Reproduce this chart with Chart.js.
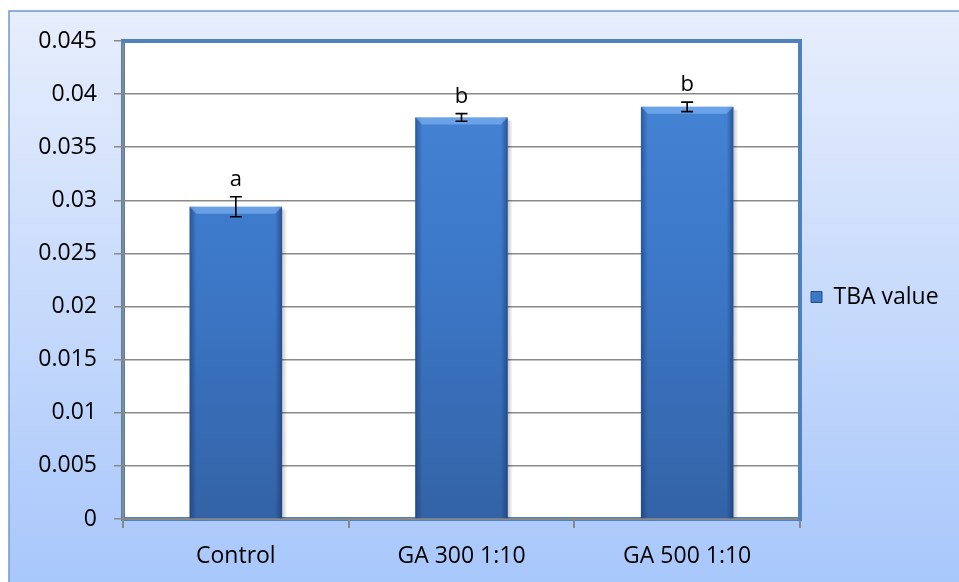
<!DOCTYPE html>
<html>
<head>
<meta charset="utf-8">
<script src="https://cdn.jsdelivr.net/npm/chart.js@4/dist/chart.umd.min.js"></script>
<style>
html,body{margin:0;padding:0;background:#fff;}
#wrap{width:959px;height:582px;position:relative;}
</style>
</head>
<body>
<div id="wrap"><canvas id="c" width="959" height="582"></canvas></div>
<script>
const categories = ['Control', 'GA 300 1:10', 'GA 500 1:10'];
const tbaValues = [0.0294, 0.0378, 0.0388];
const tbaErrors = [0.00094, 0.00036, 0.00045];
const sigLetters = ['a', 'b', 'b'];
const yTickLabels = ['0', '0.005', '0.01', '0.015', '0.02', '0.025', '0.03', '0.035', '0.04', '0.045'];
const seriesName = 'TBA value';

const FONT = "'Open Sans', 'Noto Sans', sans-serif";
const TICK_SIZE = 23;
const LEGEND_SIZE = 23;
const LEGEND_PAD = 11;
const BOX = 11;

Chart.defaults.color = '#000';
Chart.defaults.font.family = FONT;

const PLOT_RIGHT = 800;
const mctx = document.createElement('canvas').getContext('2d');
mctx.font = LEGEND_SIZE + 'px ' + FONT;
const legendTextW = mctx.measureText(seriesName).width;
const legendW = LEGEND_PAD + BOX + LEGEND_SIZE / 2 + legendTextW + 10;
const padRight = Math.max(0, 959 - PLOT_RIGHT - legendW);

const bgPlugin = {
  id: 'bg',
  afterLayout(chart) {
    if (chart.legend) { chart.legend.top -= 9; chart.legend.bottom -= 9; }
  },
  beforeDraw(chart) {
    const {ctx, chartArea: a} = chart;
    ctx.save();
    ctx.fillStyle = '#fff';
    ctx.fillRect(0, 0, chart.width, chart.height);
    const g = ctx.createLinearGradient(0, 11, 0, chart.height);
    g.addColorStop(0, '#e7eefc');
    g.addColorStop(1, '#a8c7fb');
    ctx.fillStyle = g;
    ctx.fillRect(9, 11, chart.width - 9, chart.height - 11);
    ctx.strokeStyle = '#7397cd';
    ctx.lineWidth = 1.5;
    ctx.beginPath();
    ctx.moveTo(9, chart.height);
    ctx.lineTo(9, 11);
    ctx.lineTo(chart.width, 11);
    ctx.stroke();
    ctx.fillStyle = '#fff';
    ctx.fillRect(a.left, a.top, a.right - a.left, a.bottom - a.top);
    ctx.strokeStyle = '#4f81bd';
    ctx.lineWidth = 4;
    ctx.strokeRect(a.left, a.top, a.right - a.left, a.bottom - a.top);
    ctx.restore();
  },
  beforeDatasetsDraw(chart) {
    const {ctx, chartArea: a} = chart;
    ctx.save();
    ctx.strokeStyle = '#4f81bd';
    ctx.lineWidth = 4;
    ctx.beginPath();
    ctx.moveTo(a.left - 1, a.top);
    ctx.lineTo(a.right, a.top);
    ctx.lineTo(a.right, a.bottom + 2);
    ctx.stroke();
    const meta = chart.getDatasetMeta(0);
    meta.data.forEach(el => {
      const p = el.getProps(['x', 'y', 'base', 'width'], true);
      const r = p.x + p.width / 2;
      const sg = ctx.createLinearGradient(r, 0, r + 5, 0);
      sg.addColorStop(0, 'rgba(0,0,0,0.22)');
      sg.addColorStop(1, 'rgba(0,0,0,0)');
      ctx.fillStyle = sg;
      ctx.fillRect(r, p.y + 3, 5, p.base - p.y - 3);
    });
    ctx.restore();
  },
  afterDatasetsDraw(chart) {
    const {ctx} = chart;
    const ys = chart.scales.y;
    const meta = chart.getDatasetMeta(0);
    ctx.save();
    meta.data.forEach((el, i) => {
      const p = el.getProps(['x', 'y', 'base', 'width'], true);
      const l = p.x - p.width / 2, r = p.x + p.width / 2, t = p.y, b = p.base;
      const e = 7;
      let g = ctx.createLinearGradient(l, 0, l + e, 0);
      g.addColorStop(0, 'rgba(15,40,90,0.45)');
      g.addColorStop(1, 'rgba(15,40,90,0)');
      ctx.fillStyle = g;
      ctx.fillRect(l, t, e, b - t);
      g = ctx.createLinearGradient(r - e, 0, r, 0);
      g.addColorStop(0, 'rgba(15,40,90,0)');
      g.addColorStop(1, 'rgba(15,40,90,0.5)');
      ctx.fillStyle = g;
      ctx.fillRect(r - e, t, e, b - t);
      ctx.fillStyle = 'rgba(140,190,250,0.55)';
      ctx.beginPath();
      ctx.moveTo(l, t); ctx.lineTo(r, t); ctx.lineTo(r - e, t + e); ctx.lineTo(l + e, t + e);
      ctx.closePath(); ctx.fill();
      const yHi = ys.getPixelForValue(tbaValues[i] + tbaErrors[i]);
      const yLo = ys.getPixelForValue(tbaValues[i] - tbaErrors[i]);
      ctx.strokeStyle = '#000';
      ctx.lineWidth = 1.6;
      ctx.beginPath();
      ctx.moveTo(p.x, yHi); ctx.lineTo(p.x, yLo);
      ctx.moveTo(p.x - 6, yHi); ctx.lineTo(p.x + 6, yHi);
      ctx.moveTo(p.x - 6, yLo); ctx.lineTo(p.x + 6, yLo);
      ctx.stroke();
      ctx.fillStyle = '#000';
      ctx.font = '22px ' + FONT;
      ctx.textAlign = 'center';
      ctx.textBaseline = 'alphabetic';
      ctx.fillText(sigLetters[i], p.x, yHi - 11);
    });
    ctx.restore();
  }
};

new Chart(document.getElementById('c'), {
  type: 'bar',
  data: {
    labels: categories,
    datasets: [{
      label: seriesName,
      data: tbaValues,
      backgroundColor(ctx) {
        const a = ctx.chart.chartArea;
        if (!a) return '#3c78c8';
        const g = ctx.chart.ctx.createLinearGradient(0, a.top, 0, a.bottom);
        g.addColorStop(0, '#4686d8');
        g.addColorStop(0.5, '#3c77c7');
        g.addColorStop(1, '#3363a6');
        return g;
      },
      borderWidth: 0,
      categoryPercentage: 1,
      barPercentage: 0.41
    }]
  },
  options: {
    responsive: false,
    animation: false,
    layout: {padding: {left: 0, top: 41, right: padRight, bottom: 11}},
    plugins: {
      legend: {
        position: 'right',
        labels: {
          boxWidth: BOX,
          boxHeight: BOX,
          padding: LEGEND_PAD,
          font: {size: LEGEND_SIZE, family: FONT},
          color: '#000',
          generateLabels(chart) {
            return [{text: seriesName, fillStyle: '#3c78c8', strokeStyle: '#244d88', lineWidth: 1, datasetIndex: 0}];
          }
        }
      },
      tooltip: {enabled: false}
    },
    scales: {
      x: {
        offset: true,
        grid: {display: true, drawOnChartArea: false, offset: true, tickLength: 9, color: '#898989', lineWidth: 2},
        border: {display: true, color: '#898989', width: 2},
        ticks: {font: {size: TICK_SIZE, family: FONT}, color: '#000', padding: 15, maxRotation: 0},
        afterFit(s) { s.height = 52; }
      },
      y: {
        min: 0,
        max: 0.045,
        grid: {color: '#898989', lineWidth: 1.5, tickLength: 9},
        border: {display: true, color: '#898989', width: 2},
        ticks: {
          stepSize: 0.005,
          font: {size: TICK_SIZE, family: FONT},
          color: '#000',
          padding: 17,
          callback(v, i) { return yTickLabels[i]; }
        },
        afterFit(s) { s.width = 123; }
      }
    }
  },
  plugins: [bgPlugin]
});
</script>
</body>
</html>
